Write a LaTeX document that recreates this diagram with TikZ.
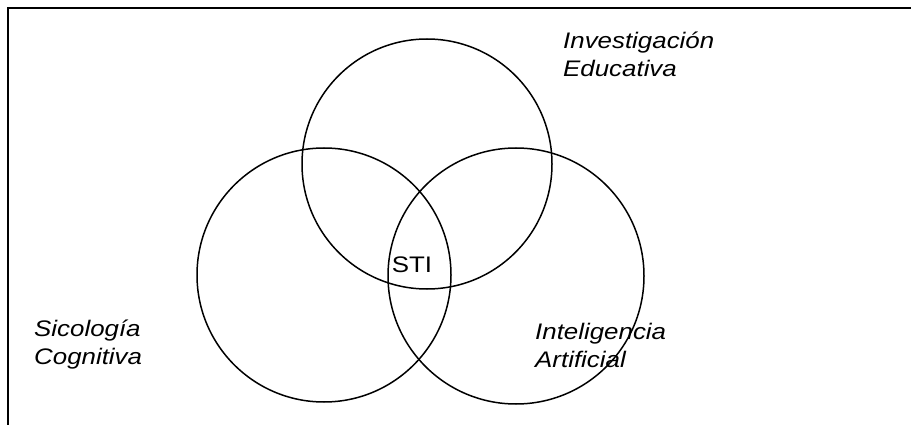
\documentclass[tikz,border=0pt]{standalone}
\usepackage{fontspec}
\setmainfont{Liberation Sans}
\newfontfamily\labfont[FakeStretch=1.15]{Liberation Sans}
\begin{document}
\begin{tikzpicture}[x=1pt,y=-1pt,
  ring/.style={draw,circle,line width=1.5pt,inner sep=0pt},
  lbl/.style={anchor=west,align=left,font=\labfont\fontsize{22.5}{28}\selectfont\itshape,inner sep=0pt},
  frame/.style={line width=2.2pt}]
\useasboundingbox (0,0) rectangle (911,425);
\coordinate (fa) at (8,425);
\coordinate (fb) at (8,8);
\coordinate (fc) at (911,8);
\draw[frame] (fa) -- (fb) -- (fc);
\node[ring,minimum size=250pt] (top) at (427,164) {};
\node[ring,minimum size=254pt] (left) at (324,275) {};
\node[ring,minimum size=256pt] (right) at (516,276) {};
\node[font=\labfont\fontsize{22.5}{28}\selectfont,inner sep=0pt] (sti) at (412,265) {STI};
\node[lbl] (ie) at (563,54) {Investigación\\Educativa};
\node[lbl] (sc) at (34,345) {Sicología\\Cognitiva};
\node[lbl] (ia) at (535,345) {Inteligencia\\Artificial};
\end{tikzpicture}
\end{document}
